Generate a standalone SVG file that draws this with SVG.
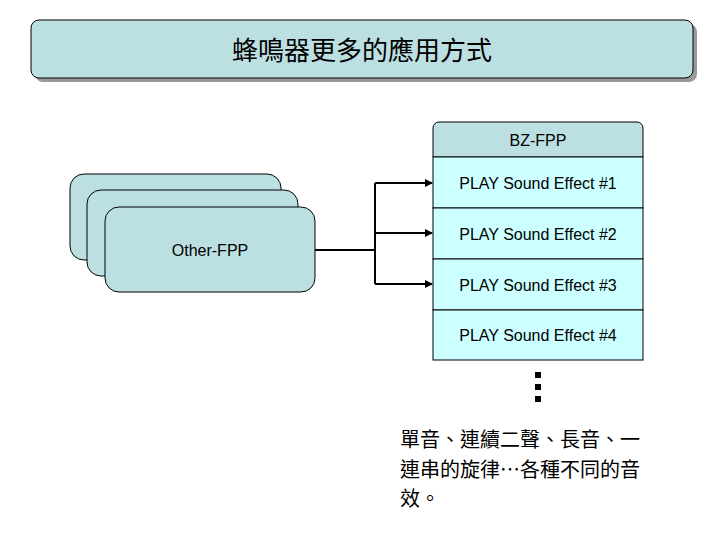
<svg xmlns="http://www.w3.org/2000/svg" width="720" height="540" viewBox="0 0 720 540">
<style>
.t{font-family:"Liberation Sans",Arial,sans-serif;font-size:16px;fill:#000}
.c{font-family:"Noto Sans CJK TC","Noto Sans CJK SC",sans-serif;fill:#000}
.card{fill:#bcdfe1;stroke:#000;stroke-width:1}
.row{fill:#ccffff;stroke:#000;stroke-width:1}
.ln{fill:none;stroke:#000;stroke-width:2}
</style>
<defs><marker id="a" markerWidth="8" markerHeight="8" refX="7" refY="4" orient="auto" markerUnits="userSpaceOnUse"><path d="M0,0L8,4L0,8z" fill="#000"/></marker></defs>
<rect width="720" height="540" fill="#fff"/>
<g id="title">
<rect x="35" y="24" width="662" height="58" rx="8" fill="#999"/>
<rect x="31" y="20" width="662" height="58" rx="8" fill="#bcdfe1" stroke="#000"/>
<text x="362" y="60" text-anchor="middle" class="c" font-size="26">蜂鳴器更多的應用方式</text>
</g>
<g id="other">
<rect class="card" x="70" y="174" width="211" height="86" rx="14"/>
<rect class="card" x="87" y="190" width="211" height="86" rx="14"/>
<rect class="card" x="105" y="207" width="210" height="85" rx="14"/>
<text class="t" x="210" y="256" text-anchor="middle">Other-FPP</text>
</g>
<g id="bz">
<path d="M433,157V128a6,6 0 0 1 6-6H637a6,6 0 0 1 6,6V157z" fill="#bcdfe1" stroke="#000"/>
<text class="t" x="538" y="146" text-anchor="middle">BZ-FPP</text>
<rect class="row" x="433" y="157" width="210" height="51"/>
<rect class="row" x="433" y="208" width="210" height="51"/>
<rect class="row" x="433" y="259" width="210" height="51"/>
<rect class="row" x="433" y="310" width="210" height="50"/>
<text class="t" x="538" y="189" text-anchor="middle">PLAY Sound Effect #1</text>
<text class="t" x="538" y="240" text-anchor="middle">PLAY Sound Effect #2</text>
<text class="t" x="538" y="291" text-anchor="middle">PLAY Sound Effect #3</text>
<text class="t" x="538" y="341" text-anchor="middle">PLAY Sound Effect #4</text>
</g>
<g id="connectors">
<path class="ln" d="M315,250H375M375,183V284"/>
<path class="ln" d="M375,183H432" marker-end="url(#a)"/>
<path class="ln" d="M375,233H432" marker-end="url(#a)"/>
<path class="ln" d="M375,284H432" marker-end="url(#a)"/>
</g>
<g id="dots" fill="#000">
<rect x="535" y="372" width="6" height="6"/>
<rect x="535" y="384" width="6" height="6"/>
<rect x="535" y="396" width="6" height="6"/>
</g>
<g id="note" class="c" font-size="20">
<text x="400" y="447">單音、連續二聲、長音、一</text>
<text x="400" y="477">連串的旋律…各種不同的音</text>
<text x="400" y="506">效。</text>
</g>
</svg>
